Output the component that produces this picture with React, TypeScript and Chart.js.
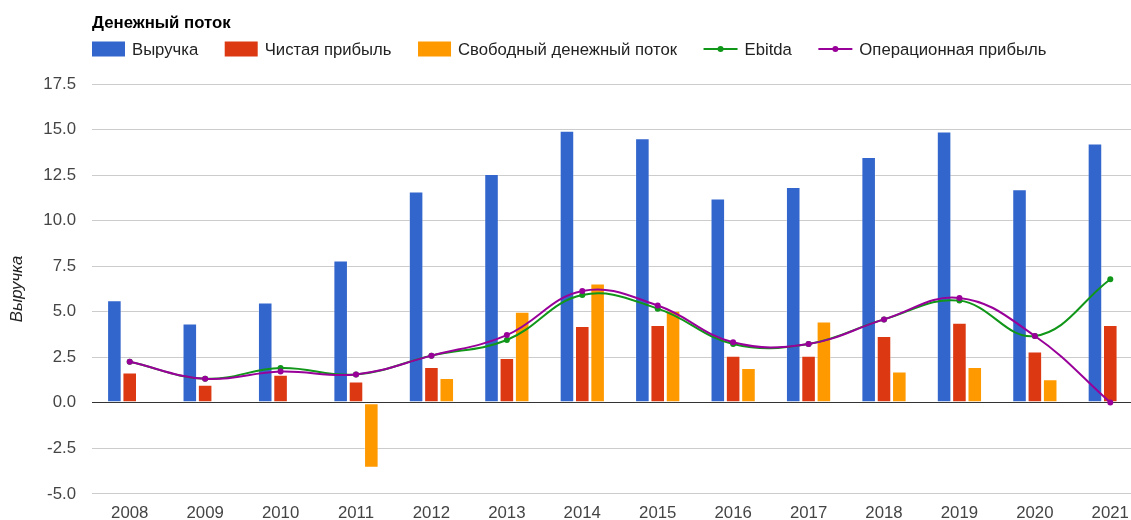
import React, { useEffect, useRef } from "react";
import { Chart, registerables } from "chart.js";

Chart.register(...registerables);

const chartTitle = "Денежный поток";
const axisTitle = "Выручка";
const years = ["2008", "2009", "2010", "2011", "2012", "2013", "2014", "2015", "2016", "2017", "2018", "2019", "2020", "2021"];
const seriesNames = ["Выручка", "Чистая прибыль", "Свободный денежный поток", "Ebitda", "Операционная прибыль"];
const revenue = [5.63, 4.35, 5.5, 7.81, 11.6, 12.56, 14.94, 14.52, 11.22, 11.84, 13.49, 14.89, 11.72, 14.23];
const netIncome = [1.67, 0.99, 1.54, 1.17, 1.96, 2.46, 4.22, 4.27, 2.59, 2.59, 3.67, 4.4, 2.82, 4.27];
const freeCashFlow = [0, 0, 0, -3.56, 1.36, 5.0, 6.55, 5.06, 1.91, 4.47, 1.72, 1.96, 1.3, 0];
const ebitda = [2.25, 1.32, 1.91, 1.56, 2.59, 3.45, 5.92, 5.17, 3.23, 3.23, 4.58, 5.61, 3.67, 6.78];
const operatingIncome = [2.25, 1.32, 1.72, 1.56, 2.59, 3.72, 6.14, 5.34, 3.32, 3.23, 4.58, 5.76, 3.67, 0.02];
const yMin = -5;
const yMax = 17.5;
const yStep = 2.5;

const colors = ["#3366cc", "#dc3912", "#ff9900", "#109618", "#990099"];
const FONT = "'Liberation Sans', Arial, sans-serif";
const FS = 16.8;

const legendPlugin = {
  id: "customLegend",
  afterDraw(chart: any) {
    const ctx = chart.ctx;
    ctx.save();
    ctx.fillStyle = "#000";
    ctx.font = `bold ${FS}px ${FONT}`;
    ctx.textBaseline = "alphabetic";
    ctx.textAlign = "left";
    ctx.fillText(chartTitle, 92, 28);

    ctx.font = `16.7px ${FONT}`;
    let x = 92;
    const cy = 49;
    seriesNames.forEach((name, i) => {
      const isLine = i >= 3;
      if (!isLine) {
        ctx.fillStyle = colors[i];
        ctx.fillRect(x, cy - 7.5, 33, 15);
        x += 33;
      } else {
        ctx.strokeStyle = colors[i];
        ctx.lineWidth = 2;
        ctx.beginPath();
        ctx.moveTo(x, cy);
        ctx.lineTo(x + 34, cy);
        ctx.stroke();
        ctx.fillStyle = colors[i];
        ctx.beginPath();
        ctx.arc(x + 17, cy, 3, 0, Math.PI * 2);
        ctx.fill();
        x += 34;
      }
      x += 7;
      ctx.fillStyle = "#222";
      ctx.fillText(name, x, 55);
      x += ctx.measureText(name).width + 26.5;
    });
    ctx.restore();
  },
};

export default function App() {
  const canvasRef = useRef<HTMLCanvasElement | null>(null);

  useEffect(() => {
    const canvas = canvasRef.current;
    if (!canvas) return;
    const barCommon = {
      type: "bar" as const,
      order: 2,
      borderWidth: 1,
      borderColor: "rgba(255,255,255,0.35)",
      borderSkipped: false,
      categoryPercentage: 0.61,
      barPercentage: 0.95,
    };
    const lineCommon = {
      type: "line" as const,
      borderWidth: 2,
      pointRadius: 3,
      pointBorderWidth: 0,
      tension: 0.4,
      fill: false,
    };
    const chart = new Chart(canvas, {
      data: {
        labels: years,
        datasets: [
          { ...barCommon, label: seriesNames[0], data: revenue, backgroundColor: colors[0] },
          { ...barCommon, label: seriesNames[1], data: netIncome, backgroundColor: colors[1] },
          { ...barCommon, label: seriesNames[2], data: freeCashFlow, backgroundColor: colors[2] },
          { ...lineCommon, order: 1, label: seriesNames[3], data: ebitda, borderColor: colors[3], backgroundColor: colors[3], pointBackgroundColor: colors[3] },
          { ...lineCommon, order: 0, label: seriesNames[4], data: operatingIncome, borderColor: colors[4], backgroundColor: colors[4], pointBackgroundColor: colors[4] },
        ],
      } as any,
      options: {
        responsive: false,
        animation: false,
        layout: { padding: { top: 84, left: 0, right: 0, bottom: 0 } },
        plugins: {
          legend: { display: false },
          title: { display: false },
          tooltip: { enabled: false },
        },
        scales: {
          x: {
            grid: { display: false, drawTicks: false },
            border: { display: false },
            ticks: { font: { family: FONT, size: FS }, color: "#444", padding: 9, maxRotation: 0, autoSkip: false },
            afterFit: (s: any) => {
              s.height = 26;
            },
          },
          y: {
            min: yMin,
            max: yMax,
            border: { display: false },
            grid: {
              drawTicks: false,
              color: (c: any) => (c.tick && c.tick.value === 0 ? "#333" : "#cccccc"),
              lineWidth: 1,
            },
            ticks: {
              stepSize: yStep,
              padding: 16,
              color: "#444",
              font: { family: FONT, size: FS },
              callback: (v: any) => Number(v).toFixed(1),
            },
            title: {
              display: true,
              text: axisTitle,
              color: "#222",
              font: { family: FONT, size: FS, style: "italic" },
              padding: { top: 7, bottom: 0 },
            },
            afterFit: (s: any) => {
              s.width = 92;
            },
          },
        },
      } as any,
      plugins: [legendPlugin],
    });
    return () => chart.destroy();
  }, []);

  return (
    <div style={{ position: "fixed", left: 0, top: 0, width: 1131, height: 520, overflow: "hidden", background: "#fff" }}>
      <canvas ref={canvasRef} width={1152} height={520} style={{ display: "block", width: 1152, height: 520 }} />
    </div>
  );
}
